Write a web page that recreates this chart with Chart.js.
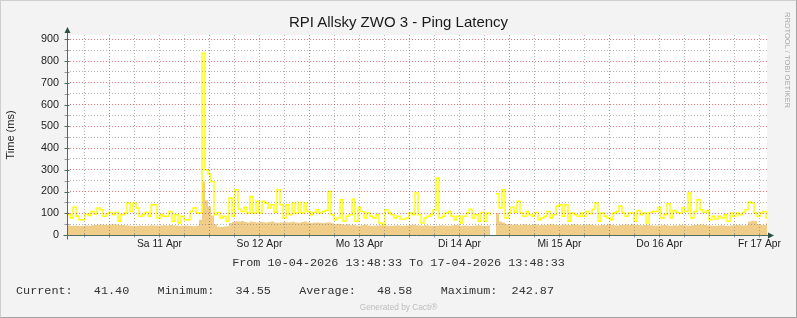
<!DOCTYPE html>
<html>
<head>
<meta charset="utf-8">
<script src="https://cdn.jsdelivr.net/npm/chart.js@4.4.1/dist/chart.umd.min.js"></script>
<style>
  html, body { margin: 0; padding: 0; background: #f3f3f3; }
  #wrap { position: relative; width: 797px; height: 318px; background: #f3f3f3; overflow: hidden; }
  #wrap canvas { position: absolute; left: 0; top: 0; }
  #frame { position: absolute; left: 0; top: 0; width: 797px; height: 318px; box-sizing: border-box;
           border: 1px solid #a4a4a4; border-top-color: #cfcfcf; border-left-color: #cfcfcf; pointer-events: none; }
  .txt { position: absolute; white-space: pre; }
  #title { left: 0; width: 797px; top: 13px; text-align: center; font: 15px "Liberation Sans", Arial, sans-serif; color: #1a1a1a; }
  #period { left: 0; width: 797px; top: 256px; text-align: center; font: 11.8px "Liberation Mono", monospace; color: #333; }
  #stats { left: 16px; top: 284px; font: 11.8px "Liberation Mono", monospace; color: #333; }
  #cacti { left: 0; width: 797px; top: 302px; text-align: center; font: 8.3px "Liberation Sans", Arial, sans-serif; color: #bdbdbd; }
  #rrd { left: 783px; top: 12px; writing-mode: vertical-rl; font: 7.6px "Liberation Sans", Arial, sans-serif; color: #a8a8a8; }
</style>
</head>
<body>
<div id="wrap">
  <canvas id="pingChart" width="797" height="318"></canvas>
  <div id="title" class="txt"></div>
  <div id="period" class="txt"></div>
  <div id="stats" class="txt"></div>
  <div id="cacti" class="txt">Generated by Cacti®</div>
  <div id="rrd" class="txt">RRDTOOL / TOBI OETIKER</div>
  <div id="frame"></div>
</div>
<script>
const chartTitle = "RPI Allsky ZWO 3 - Ping Latency";
const periodText = "From 10-04-2026 13:48:33 To 17-04-2026 13:48:33";

// time axis: hours since 10-04 13:48:33, one sample every 0.72 h
const SAMPLE_H = 0.72;
const RANGE_H = 168;
const FIRST_MIDNIGHT_H = 10.1908;
const dayLabels = ["Sa 11 Apr", "So 12 Apr", "Mo 13 Apr", "Di 14 Apr", "Mi 15 Apr", "Do 16 Apr", "Fr 17 Apr"];

const yMax = 920;
const yLabelValues = [0, 100, 200, 300, 400, 500, 600, 700, 800, 900];

const statLabels = ["Current:", "Minimum:", "Average:", "Maximum:"];
const statValues = [41.40, 34.55, 48.58, 242.87];

// average ping (area)
const latencyAvg = [
  44, 42, 43, 42, 41, 42, 44, 43, 45, 46, 47, 48, 47, 46, 48, 49, 48, 47, 46, 45,
  44, 42, 40, 43, 44, 43, 42, 44, 45, 44, 43, 44, 45, 44, 46, 45, 44, 43, 42, 44,
  43, 41, 40, 42, 70, 246, 160, 131, 90, 50,
  38, 37, 39, 40, 55, 60, 63, 62, 64, 60, 58,
  62, 60, 58, 61, 59, 57, 60, 62, 58, 56,
  58, 60, 57, 59, 61, 58, 56, 60, 62, 57,
  55, 57, 58, 56, 55, 58, 57, 54, 50, 52, 49, 47, 50,
  45, 46, 44, 43, 45, 47, 44, 43, 42, 44, 45, 46, 44, 42, 43, 44, 45, 43, 42, 44,
  46, 47, 45, 44, 43, 45, 44, 42, 41, 43, 45, 44, 43, 42, 44, 46, 45, 43, 44, 42,
  41, 43, 44, 45, 43, 42, 44, 45,
  null, 100, 62, 58,
  50, 48, 47, 49, 46, 48, 50, 47, 46, 49, 48, 45, 47, 46, 48, 49, 47, 46, 45, 48,
  47, 46, 49, 48, 47, 45, 46, 48, 47, 46, 44, 45, 47, 46, 48, 47, 45, 44, 46, 47,
  48, 46,
  50, 47, 46, 45, 46, 47, 45, 44, 43, 44, 45, 46, 44, 43, 45, 44, 46, 45, 44, 43,
  45, 46, 47, 48, 46, 45, 44, 43, 42, 44, 45, 43, 42, 44, 45, 46, 47, 44, 45, 62,
  66, 64, 50, 47, 46, 55
];

// maximum ping (line)
const latencyMax = [
  93, 78, 128, 86, 70, 70, 96, 90, 108, 96, 124, 116, 86, 98, 104, 93, 104, 63, 93, 101,
  147, 108, 147, 124, 86, 93, 104, 86, 139, 139, 78, 93, 86, 86, 108, 63, 93, 55, 86, 70,
  70, 108, 124, 101, 101,
  836, 300, 280, 245,
  93, 104, 78, 86, 63, 170, 86, 208, 119, 108,
  128, 101, 177, 101, 155, 101, 155, 147, 124, 139,
  104, 208, 139, 78, 139, 93, 147, 101, 150, 101,
  147, 108, 93, 104, 116, 101, 108, 113, 200, 93,
  70, 78, 162, 63, 86,
  93, 165, 63, 128, 108, 78, 101, 86, 78, 93,
  55, 47, 116, 101, 93, 78, 86, 73, 73, 78,
  101, 93, 193, 93, 55, 78, 86, 93, 116, 262,
  78, 86, 101, 108, 86, 70, 86, 55, 86, 101,
  119, 78, 93, 63, 104, 63, 101,
  89, null, 190, 124, 208,
  78, 101, 128, 104, 155, 101, 86, 108, 93, 86,
  104, 70, 78, 86, 108, 78, 93, 132, 139, 86,
  139, 63, 101, 93, 86, 101, 86, 108, 98, 119,
  147, 63, 101, 86, 78, 70, 101, 108, 132, 101, 86, 101,
  101, 63, 113, 93, 101, 55, 104, 108, 108, 128,
  78, 93, 144, 78, 113, 104, 101, 124, 108, 193,
  78, 108, 162, 116, 104, 113, 70, 86, 73, 86,
  78, 93, 63, 101, 86, 101, 93, 104, 116, 152,
  147, 101, 86, 101, 108, 78
];

function toPoints(values) {
  const pts = values.map((v, i) => ({ x: i * SAMPLE_H, y: v }));
  pts.push({ x: RANGE_H, y: values[values.length - 1] });
  return pts;
}

// x ticks start 6 h before the first midnight, so every 4th from index 1 is a midnight
function isMidnightIndex(i) {
  return i % 4 === 1;
}
function noonIndex(h) {
  const k = (h - FIRST_MIDNIGHT_H - 12) / 24;
  return Math.abs(k - Math.round(k)) < 0.001 ? Math.round(k) : -1;
}

function fillTexts() {
  document.getElementById("title").textContent = chartTitle;
  document.getElementById("period").textContent = periodText;
  document.getElementById("stats").textContent = statLabels
    .map((l, i) => l + statValues[i].toFixed(2).padStart(8))
    .join("    ");
}

const GRID_MINOR = "rgba(120, 120, 120, 0.55)";
const GRID_MAJOR = "rgba(235, 60, 60, 0.7)";
const AXIS = "#4f6c63";

const plotFrame = {
  id: "plotFrame",
  beforeDraw(chart) {
    const { ctx, chartArea: a } = chart;
    ctx.save();
    ctx.fillStyle = "#ffffff";
    ctx.fillRect(a.left, a.top, a.right - a.left, a.bottom - a.top);
    ctx.restore();
  },
  afterDraw(chart) {
    const { ctx, chartArea: a, scales } = chart;
    const y0 = Math.round(scales.y.getPixelForValue(0)) + 0.5;
    const x0 = Math.round(a.left) + 0.5;
    ctx.save();
    ctx.lineWidth = 1;

    // small ticks along the time axis
    scales.x.ticks.forEach((t, i) => {
      const px = Math.round(scales.x.getPixelForValue(t.value)) + 0.5;
      ctx.strokeStyle = isMidnightIndex(i) ? "#e07070" : "#9a9a9a";
      ctx.beginPath();
      ctx.moveTo(px, y0 - 2);
      ctx.lineTo(px, y0 + 2);
      ctx.stroke();
    });
    // small ticks along the value axis
    scales.y.ticks.forEach((t) => {
      const py = Math.round(scales.y.getPixelForValue(t.value)) + 0.5;
      ctx.strokeStyle = t.value % 100 === 0 ? AXIS : "#9a9a9a";
      ctx.beginPath();
      ctx.moveTo(x0 - 3, py);
      ctx.lineTo(x0 + 2, py);
      ctx.stroke();
    });

    ctx.strokeStyle = AXIS;
    ctx.beginPath();
    ctx.moveTo(x0 - 4, y0);
    ctx.lineTo(a.right + 2, y0);
    ctx.moveTo(x0, y0 + 4);
    ctx.lineTo(x0, a.top - 3);
    ctx.stroke();

    ctx.fillStyle = "#2c4f44";
    ctx.beginPath();
    ctx.moveTo(a.right + 1, y0 - 3);
    ctx.lineTo(a.right + 7, y0);
    ctx.lineTo(a.right + 1, y0 + 3);
    ctx.closePath();
    ctx.fill();
    ctx.beginPath();
    ctx.moveTo(x0 - 3, a.top - 2);
    ctx.lineTo(x0, a.top - 8);
    ctx.lineTo(x0 + 3, a.top - 2);
    ctx.closePath();
    ctx.fill();
    ctx.restore();
  },
};

function createChart() {
  Chart.defaults.font.family = "'Liberation Sans', Arial, sans-serif";
  Chart.defaults.color = "#222";

  new Chart(document.getElementById("pingChart"), {
    type: "line",
    data: {
      datasets: [
        {
          label: "Max",
          data: toPoints(latencyMax),
          borderColor: "#ffff00",
          borderWidth: 1.4,
          pointRadius: 0,
          stepped: "before",
          fill: false,
          spanGaps: false,
          order: 1,
        },
        {
          label: "Avg",
          data: toPoints(latencyAvg),
          borderWidth: 0,
          borderColor: "rgba(0,0,0,0)",
          backgroundColor: "#f0cd88",
          pointRadius: 0,
          stepped: "before",
          fill: "origin",
          spanGaps: false,
          order: 2,
        },
      ],
    },
    options: {
      responsive: false,
      animation: false,
      events: [],
      layout: { padding: { left: 0, top: 35, right: 30, bottom: 0 } },
      plugins: { legend: { display: false }, tooltip: { enabled: false }, title: { display: false } },
      scales: {
        x: {
          type: "linear",
          min: 0,
          max: RANGE_H,
          afterFit: (s) => { s.height = 83; },
          afterBuildTicks: (s) => {
            const t = [];
            for (let k = -1; FIRST_MIDNIGHT_H + 6 * k <= RANGE_H; k++) t.push({ value: FIRST_MIDNIGHT_H + 6 * k });
            s.ticks = t;
          },
          ticks: {
            autoSkip: false,
            maxRotation: 0,
            padding: 3,
            color: "#222",
            font: { size: 10.3 },
            callback: (v) => {
              const k = noonIndex(v);
              return k >= 0 ? dayLabels[k] : "";
            },
          },
          grid: {
            z: 1,
            drawTicks: false,
            color: (c) => (isMidnightIndex(c.index) ? GRID_MAJOR : GRID_MINOR),
          },
          border: { display: false, dash: [1, 2] },
        },
        y: {
          min: 0,
          max: yMax,
          afterFit: (s) => { s.width = 67; },
          afterBuildTicks: (s) => {
            const t = [];
            for (let v = 0; v <= 900; v += 50) t.push({ value: v });
            s.ticks = t;
          },
          ticks: {
            autoSkip: false,
            padding: 8,
            color: "#222",
            font: { size: 10.8 },
            callback: (v) => (yLabelValues.includes(v) ? String(v) : ""),
          },
          grid: {
            z: 1,
            drawTicks: false,
            color: (c) => (c.index % 2 === 0 ? GRID_MAJOR : GRID_MINOR),
          },
          border: { display: false, dash: [1, 2] },
          title: {
            display: true,
            text: "Time (ms)",
            color: "#222",
            font: { size: 11 },
            padding: { top: 4, bottom: 0 },
          },
        },
      },
    },
    plugins: [plotFrame],
  });
}

fillTexts();
createChart();
</script>
</body>
</html>
